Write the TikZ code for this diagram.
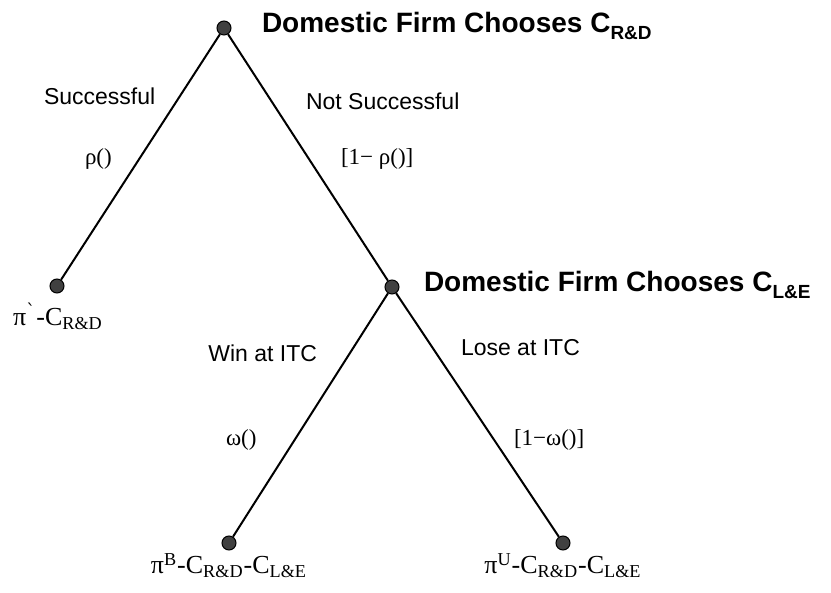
\documentclass[tikz,border=0pt]{standalone}
\usepackage{fontspec}
\setmainfont{Liberation Serif}
\setsansfont{Liberation Sans}
\newfontfamily\dejavuserif{DejaVu Serif}
\newcommand{\lbl}{\fontsize{11.5}{13}\sffamily}
\newcommand{\prob}{\fontsize{11.5}{14}\selectfont}
\newcommand{\pay}{\fontsize{13}{15}\selectfont}
\newcommand{\ttl}{\fontsize{14}{17}\sffamily\bfseries}
\newcommand{\sub}[1]{\raisebox{-0.45ex}{\fontsize{9.5}{10}\selectfont #1}}
\begin{document}
\begin{tikzpicture}[x=0.5pt,y=-0.5pt,line width=1pt,
  dot/.style={circle,fill=black!75,draw=black,line width=0.5pt,inner sep=0pt,minimum size=7pt}]
  \useasboundingbox (0,0) rectangle (831,593);
  \node[dot] (root) at (224,28) {};
  \node[dot] (succ) at (57,286) {};
  \node[dot] (fail) at (392,287) {};
  \node[dot] (win) at (229,543) {};
  \node[dot] (lose) at (563,543) {};
  \draw (root)--(succ) (root)--(fail);
  \draw (fail)--(win) (fail)--(lose);
  % decision titles
  \node[anchor=base west,inner sep=0pt] (t1) at (261,33) {\ttl Domestic Firm Chooses C\sub{R\&D}};
  \node[anchor=base west,inner sep=0pt] (t2) at (423,292) {\ttl Domestic Firm Chooses C\sub{L\&E}};
  % branch labels
  \node[anchor=base west,inner sep=0pt] (l1) at (43,105) {\lbl Successful};
  \node[anchor=base west,inner sep=0pt] (p1) at (84,165) {\prob ρ()};
  \node[anchor=base west,inner sep=0pt] (l2) at (305,110) {\lbl Not Successful};
  \node[anchor=base west,inner sep=0pt] (p2) at (340,165) {\prob [1− ρ()]};
  \node[anchor=base east,inner sep=0pt] (l3) at (318,362) {\lbl Win at ITC};
  \node[anchor=base west,inner sep=0pt] (l4) at (460,356) {\lbl Lose at ITC};
  \node[anchor=base west,inner sep=0pt] (p3) at (225,445) {\prob ω()};
  \node[anchor=base west,inner sep=0pt] (p4) at (513,445) {\prob [1−ω()]};
  % payoffs
  \node[anchor=base,inner sep=0pt] (v1) at (58,326) {\pay π\textsuperscript{{\dejavuserif\char"02CB}}-C\textsubscript{R\&D}};
  \node[anchor=base,inner sep=0pt] (v2) at (229,574) {\pay π\textsuperscript{B}-C\textsubscript{R\&D}-C\textsubscript{L\&E}};
  \node[anchor=base,inner sep=0pt] (v3) at (563,574) {\pay π\textsuperscript{U}-C\textsubscript{R\&D}-C\textsubscript{L\&E}};
\end{tikzpicture}
\end{document}
